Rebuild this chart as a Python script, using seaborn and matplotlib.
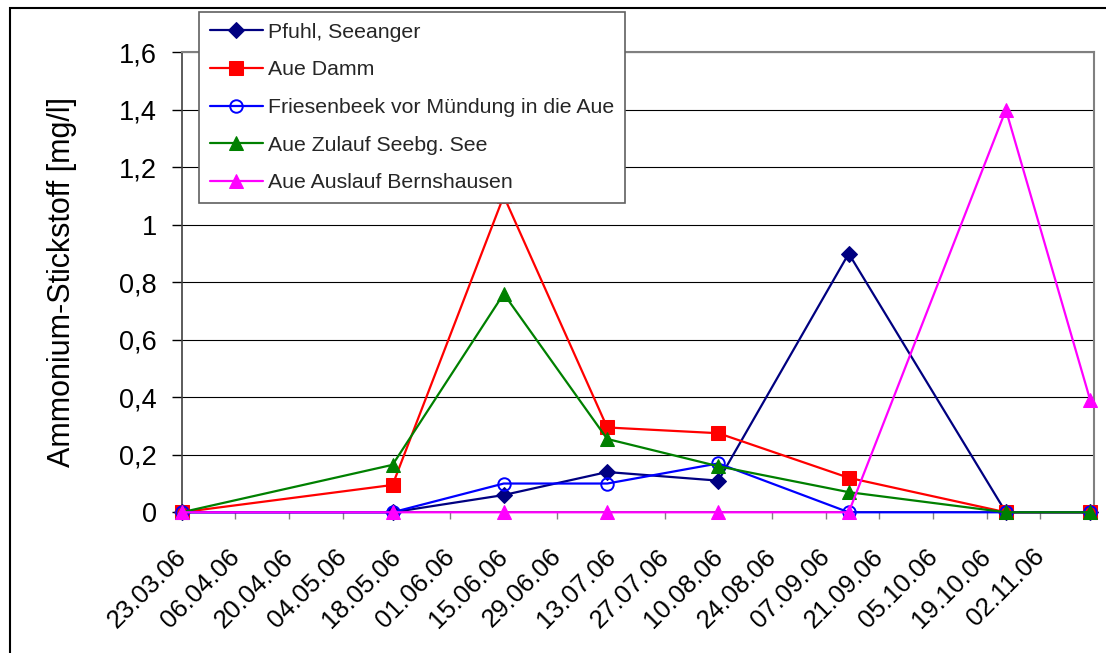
import matplotlib
matplotlib.use("Agg")
import matplotlib.pyplot as plt
import matplotlib.patches as mpatches
import matplotlib.transforms as mtransforms
from matplotlib.ticker import FuncFormatter, MultipleLocator
import seaborn as sns
import pandas as pd

# Sampling dates (2006) and ammonium-nitrogen values in mg/l
dates = ["2006-03-23", "2006-05-17", "2006-06-15", "2006-07-12",
         "2006-08-10", "2006-09-13", "2006-10-24", "2006-11-15"]
pfuhl_seeanger = [0, 0, 0.06, 0.14, 0.11, 0.90, 0, 0]
aue_damm = [0, 0.095, 1.10, 0.295, 0.275, 0.12, 0, 0]
friesenbeek = [0, 0, 0.10, 0.10, 0.17, 0, 0, 0]
aue_zulauf = [0, 0.165, 0.76, 0.255, 0.16, 0.07, 0, 0]
aue_auslauf = [0, 0, 0, 0, 0, 0, 1.40, 0.39]

series_names = ["Pfuhl, Seeanger", "Aue Damm", "Friesenbeek vor Mündung in die Aue",
                "Aue Zulauf Seebg. See", "Aue Auslauf Bernshausen"]
tick_start, tick_end, axis_end = "2006-03-23", "2006-11-02", "2006-11-16"

sns.set_theme(style="white")
plt.rcParams["font.family"] = ["Liberation Sans", "DejaVu Sans"]

fig = plt.figure(figsize=(11.06, 6.53), dpi=100)
ax = fig.add_axes([0.1643, 0.2155, 0.8249, 0.7044])

x = pd.to_datetime(dates)
styles = [
    dict(color="#000080", marker="D", markersize=8.5, markerfacecolor="#000080", markeredgecolor="#000080"),
    dict(color="#ff0000", marker="s", markersize=9.5, markerfacecolor="#ff0000", markeredgecolor="#ff0000"),
    dict(color="#0000ff", marker="o", markersize=9, markerfacecolor="none", markeredgecolor="#0000ff", markeredgewidth=1.4),
    dict(color="#008000", marker="^", markersize=10.5, markerfacecolor="#008000", markeredgecolor="#008000"),
    dict(color="#ff00ff", marker="^", markersize=10.5, markerfacecolor="#ff00ff", markeredgecolor="#ff00ff"),
]
values = [pfuhl_seeanger, aue_damm, friesenbeek, aue_zulauf, aue_auslauf]

for name, vals, st in zip(series_names, values, styles):
    sns.lineplot(x=x, y=vals, ax=ax, label=name, linewidth=1.6, clip_on=False, zorder=3, **st)

# Axes ranges and ticks
ax.set_ylim(0, 1.6)
ax.set_xlim(pd.Timestamp(tick_start), pd.Timestamp(axis_end))
ax.yaxis.set_major_locator(MultipleLocator(0.2))
ax.yaxis.set_major_formatter(FuncFormatter(lambda v, p: f"{v:.1f}".rstrip("0").rstrip(".").replace(".", ",")))
xt = pd.date_range(tick_start, tick_end, freq="14D")
ax.set_xticks(xt)
ax.set_xticklabels([d.strftime("%d.%m.%y") for d in xt], rotation=45, ha="right",
                   va="top", rotation_mode="anchor")

ax.tick_params(axis="y", which="major", direction="out", length=7, width=1, color="black",
               pad=11, labelsize=19.5, labelcolor="black", left=True)
ax.tick_params(axis="x", which="major", direction="out", length=5, width=1, color="#808080",
               pad=18, labelsize=18.5, labelcolor="black", bottom=True)

# nudge the rotated date labels to the left of their ticks
shift = mtransforms.ScaledTranslation(-8 / 100, 0, fig.dpi_scale_trans)
for lbl in ax.get_xticklabels():
    lbl.set_transform(lbl.get_transform() + shift)

ax.grid(axis="y", color="black", linewidth=0.8)
ax.grid(axis="x", visible=False)
ax.set_axisbelow(True)

for side in ("top", "right"):
    ax.spines[side].set_color("#808080")
    ax.spines[side].set_linewidth(1.5)
ax.spines["left"].set_color("#404040")
ax.spines["bottom"].set_color("#404040")
ax.spines["left"].set_linewidth(1.2)
ax.spines["bottom"].set_linewidth(1.2)

ax.set_xlabel("")
ax.set_ylabel("Ammonium-Stickstoff [mg/l]", fontsize=22, color="black")
ax.yaxis.set_label_coords(-0.1145, 0.5)

leg = ax.legend(loc="upper left", bbox_to_anchor=(0.180, 0.9816), bbox_transform=fig.transFigure,
                fontsize=15.3, frameon=True, fancybox=False, framealpha=1, edgecolor="#606060",
                handlelength=2.5, handletextpad=0.25, labelspacing=0.88, borderpad=0.5,
                borderaxespad=0)
leg.get_frame().set_linewidth(1.2)
leg.set_zorder(10)

# Outer chart frame
fig.patches.append(mpatches.Rectangle((0.009, -0.1), 1.2, 1.0877, transform=fig.transFigure,
                                      fill=False, edgecolor="black", linewidth=1.5))

fig.savefig("out.png", dpi=100)
